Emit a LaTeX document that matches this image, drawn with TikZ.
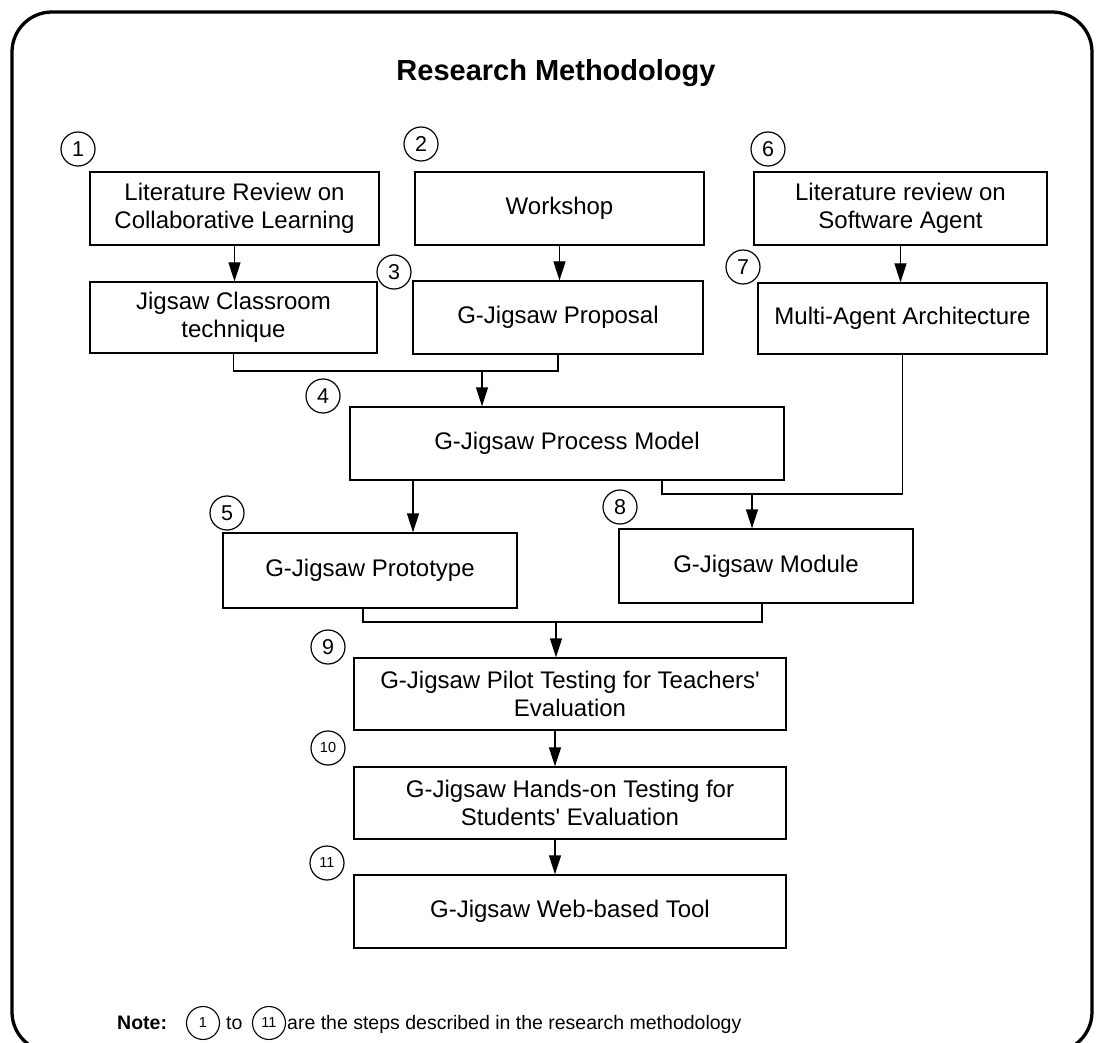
\documentclass[tikz,border=0pt]{standalone}
\usepackage{fontspec}
\setmainfont{Liberation Sans}
\usetikzlibrary{arrows.meta,calc}

\begin{document}
\begin{tikzpicture}[x=1pt,y=-1pt,
  stepbox/.style={draw, line width=1.3pt, inner sep=0pt, align=center,
    font=\fontsize{24}{28}\selectfont},
  num/.style={draw, circle, line width=1.2pt, minimum size=34pt, inner sep=0pt,
    font=\fontsize{21.5}{22}\selectfont},
  smallnum/.style={num, font=\fontsize{14.5}{15}\selectfont},
  notenum/.style={draw, circle, line width=1.1pt, minimum size=33pt, inner sep=0pt,
    font=\fontsize{14.5}{15}\selectfont},
  link/.style={line width=1.3pt},
  arr/.style={link, -{Triangle[length=19pt,width=12pt]}}]

\useasboundingbox (0,0) rectangle (1096,1043);
\clip (0,0) rectangle (1096,1043);

% outer frame
\draw[line width=3.3pt, rounded corners=40pt] (12,12) rectangle (1092,1052);

% title
\node[anchor=base, font=\bfseries\fontsize{29}{32}\selectfont] (title) at (556,81) {Research Methodology};

% first row
\node[stepbox, minimum width=289, minimum height=73] (b1) at (234.5,208.5) {Literature Review on\\Collaborative Learning};
\node[stepbox, minimum width=289, minimum height=73] (b2) at (559.5,208.5) {Workshop};
\node[stepbox, minimum width=293, minimum height=73] (b6) at (900.5,208.5) {Literature review on\\Software Agent};

% second row
\node[stepbox, minimum width=287, minimum height=71] (jig) at (233.5,317.5) {Jigsaw Classroom\\technique};
\node[stepbox, minimum width=290, minimum height=73] (prop) at (558,317.5) {G-Jigsaw Proposal};
\node[stepbox, minimum width=289, minimum height=71] (mas) at (902.5,318.5) {Multi-Agent Architecture};

% process model
\node[stepbox, minimum width=434, minimum height=73] (pm) at (567,443.5) {G-Jigsaw Process Model};

% prototype and module
\node[stepbox, minimum width=294, minimum height=75] (proto) at (370,570.5) {G-Jigsaw Prototype};
\node[stepbox, minimum width=294, minimum height=74] (mod) at (766,566) {G-Jigsaw Module};

% evaluation and tool
\node[stepbox, minimum width=432, minimum height=72] (pilot) at (570,694) {G-Jigsaw Pilot Testing for Teachers\textquotesingle\\Evaluation};
\node[stepbox, minimum width=432, minimum height=72] (hands) at (570,803) {G-Jigsaw Hands-on Testing for\\Students\textquotesingle\ Evaluation};
\node[stepbox, minimum width=432, minimum height=73] (web) at (570,911.5) {G-Jigsaw Web-based Tool};

% step numbers
\node[num] (n1) at (78,149) {1};
\node[num] (n2) at (421,144) {2};
\node[num] (n6) at (768,149) {6};
\node[num] (n3) at (394,272) {3};
\node[num] (n7) at (743,267) {7};
\node[num] (n4) at (323,396) {4};
\node[num] (n5) at (227,513) {5};
\node[num] (n8) at (620,507) {8};
\node[num] (n9) at (328,647) {9};
\node[smallnum] (n10) at (328,748) {10};
\node[smallnum] (n11) at (327,863) {11};

% connectors
\draw[arr] (b1.south) -- (b1.south |- jig.north);
\draw[arr] (b2.south) -- (b2.south |- prop.north);
\draw[arr] (b6.south) -- (b6.south |- mas.north);

\coordinate (j1) at (482,371);
\draw[link] (jig.south) |- (j1) -| (prop.south);
\draw[arr] (j1) -- (j1 |- pm.north);

\draw[arr] ([xshift=-154pt]pm.south) -- ([xshift=-154pt]pm.south |- proto.north);

\coordinate (j2) at (752,494);
\draw[link] ([xshift=95pt]pm.south) |- (j2) -| (mas.south);
\draw[arr] (j2) -- (j2 |- mod.north);

\coordinate (j3) at (556,622);
\draw[link] ([xshift=-7pt]proto.south) |- (j3) -| ([xshift=-4pt]mod.south);
\draw[arr] (j3) -- (j3 |- pilot.north);

\draw[arr] ([xshift=-15pt]pilot.south) -- ([xshift=-15pt]hands.north);
\draw[arr] ([xshift=-15pt]hands.south) -- ([xshift=-15pt]web.north);

% note line
\node[anchor=base west, inner sep=0pt, font=\bfseries\fontsize{19.5}{20}\selectfont] (note) at (117,1029) {Note:};
\node[notenum] (m1) at (203,1023) {1};
\node[anchor=base west, inner sep=0pt, font=\fontsize{19.5}{20}\selectfont] (to) at (226,1029) {to};
\node[notenum] (m11) at (269,1023) {11};
\node[anchor=base west, inner sep=0pt, font=\fontsize{19.5}{20}\selectfont] (desc) at (287,1029) {are the steps described in the research methodology};
\end{tikzpicture}
\end{document}
